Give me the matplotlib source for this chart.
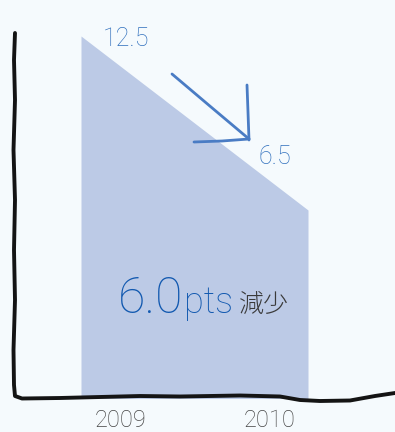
import matplotlib.pyplot as plt
import numpy as np

# data
years = ['2009', '2010']
values = [12.5, 6.5]
diff_label = '6.0'

bg = '#f5fafd'
fill_c = '#bccae6'
blue = '#2f6fbd'
dark_blue = '#1259b0'
font = 'Roboto'

W, H = 395, 432
fig = plt.figure(figsize=(W / 100, H / 100), dpi=100, facecolor=bg)
ax = fig.add_axes([0, 0, 1, 1])
ax.set_facecolor(bg)

# pixel mapping: x=0 -> 81px, x=1 -> 308px ; y=0 -> 398.5px, 29px per unit
px_x = 227.0
px_y = 29.0
ax.set_xlim(-81 / px_x, (W - 81) / px_x)
ax.set_ylim(-(H - 398.5) / px_y, 398.5 / px_y)
ax.axis('off')

x = np.arange(len(values))
ax.fill_between(x, 0, values, color=fill_c, lw=0, zorder=1)


def fx(px):
    return px / W


def fy(py):
    return 1 - py / H


fig.text(fx(103), fy(46), f'{values[0]}', color=blue, fontsize=18,
         family=font, fontweight='light', ha='left', va='baseline')
fig.text(fx(259), fy(164), f'{values[1]}', color=blue, fontsize=18,
         family=font, fontweight='light', ha='left', va='baseline')

# year labels
for xc, yr in zip([120, 270], years):
    fig.text(fx(xc), fy(427), yr, color='#444444', fontsize=17, family=font,
             fontweight='light', ha='center', va='baseline')

# big label, laid out piece by piece
renderer = fig.canvas.get_renderer()
t1 = fig.text(fx(118), fy(313), diff_label, color=dark_blue, fontsize=36,
              family=font, fontweight='light', ha='left', va='baseline')
x1 = t1.get_window_extent(renderer).x1
t2 = fig.text(x1 / W + 1 / W, fy(313), 'pts', color=dark_blue, fontsize=26,
              family=font, fontweight='light', ha='left', va='baseline')
x2 = t2.get_window_extent(renderer).x1
fig.text(x2 / W + 5 / W, fy(312), '減少', color='#3a3a3a', fontsize=18,
         family=['Noto Sans CJK JP', 'DejaVu Sans'], fontweight='light',
         ha='left', va='baseline')


# hand-drawn arrow
def fpx(pts):
    a = np.array(pts, dtype=float)
    return a[:, 0] / W, 1 - a[:, 1] / H


for seg in ([(172, 74), (211, 107), (249, 139)],
            [(247, 85), (248, 112), (249, 140)],
            [(194, 142), (222, 141), (249, 139)]):
    xs, ys = fpx(seg)
    fig.add_artist(plt.Line2D(xs, ys, color='#4a7cc4', lw=2, solid_capstyle='round'))

# hand-drawn axes
axis_pts = [(15, 33), (14, 60), (15, 100), (13.5, 150), (15, 200), (14, 250),
            (15, 300), (13.5, 350), (14, 385), (15, 396), (22, 398.5), (60, 398),
            (100, 397), (140, 396), (180, 396.5), (240, 395.5), (280, 396.5),
            (300, 400), (320, 401), (350, 400.5), (375, 396), (395, 393)]
xs, ys = fpx(axis_pts)
fig.add_artist(plt.Line2D(xs, ys, color='#141414', lw=2.8, solid_joinstyle='round',
                          solid_capstyle='round'))

fig.savefig('out.png', dpi=100, facecolor=bg)
